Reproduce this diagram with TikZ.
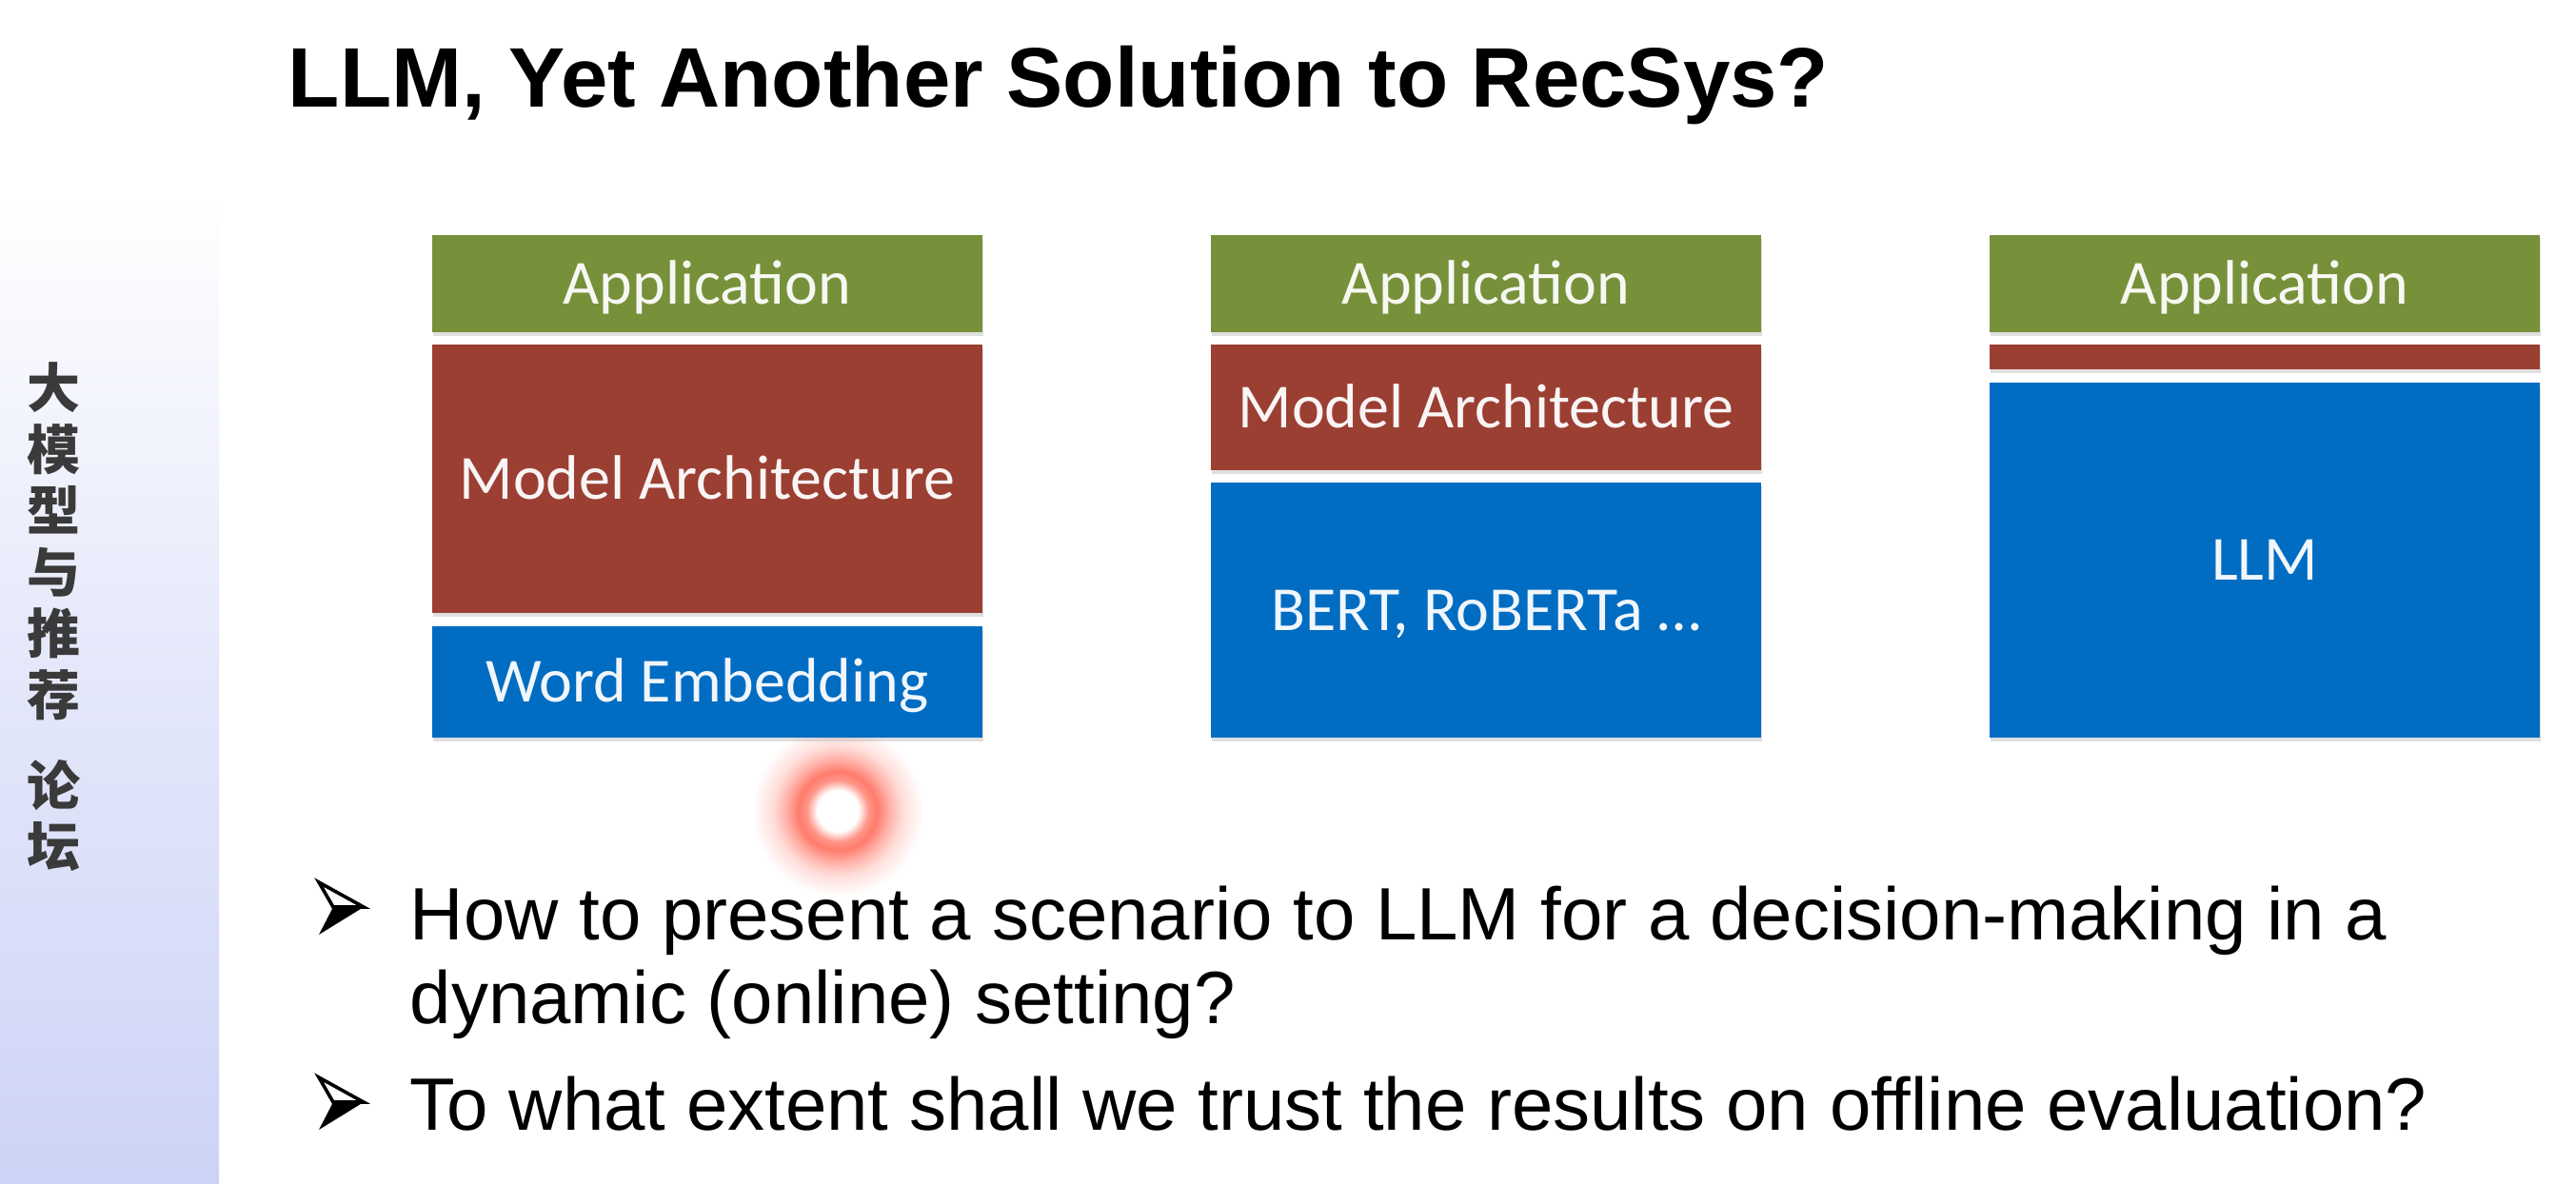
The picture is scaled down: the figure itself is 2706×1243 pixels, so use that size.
\documentclass[tikz,border=0pt]{standalone}
\usepackage{fontspec}
\setmainfont{Liberation Sans}
\newfontfamily\calfont{Carlito}
\newfontfamily\cjkfont{Noto Sans CJK SC}
\usetikzlibrary{shadows}
\definecolor{appgreen}{HTML}{77913A}
\definecolor{archred}{HTML}{9B3F33}
\definecolor{embblue}{HTML}{006CC2}
\definecolor{sidecol}{HTML}{CDD3F6}
\definecolor{laserred}{HTML}{FF7B6C}
\definecolor{sidetext}{HTML}{3A3A3A}
\pgfdeclareradialshading{laserglow}{\pgfpointorigin}{color(0bp)=(white); color(6bp)=(white); color(9bp)=(laserred!80!white); color(11.5bp)=(laserred); color(15bp)=(laserred!60!white); color(19bp)=(laserred!25!white); color(25bp)=(white); color(50bp)=(white)}
\pgfdeclareverticalshading{sidebarshade}{100bp}{color(0bp)=(sidecol); color(25bp)=(sidecol); color(50bp)=(sidecol!45!white); color(67bp)=(white); color(100bp)=(white)}
\begin{document}
\begin{tikzpicture}[x=0.25pt,y=-0.25pt,
  layer/.style={rectangle, inner sep=0pt, minimum width=144.5pt, draw=none,
    text height=10.6pt, text depth=0pt,
    drop shadow={shadow xshift=0.3pt, shadow yshift=-1.1pt, opacity=0.25},
    font=\calfont\fontsize{16.5pt}{18pt}\selectfont},
  applayer/.style={layer, fill=appgreen, text=appgreen!6!white, minimum height=25.5pt},
  archlayer/.style={layer, fill=archred, text=archred!5!white},
  emblayer/.style={layer, fill=embblue, text=embblue!6!white},
  bullettext/.style={anchor=base west, inner sep=0pt, font=\fontsize{19.5pt}{22pt}\selectfont},
  cjkchar/.style={inner sep=0pt, text=sidetext, font=\cjkfont\bfseries\fontsize{14pt}{14pt}\selectfont},
  pics/bulletarrow/.style={code={
    \fill[black] (-8,-1) -- (24,-1) -- (-23,28) -- cycle;
    \filldraw[fill=white, draw=black, line width=0.9pt, line join=miter] (-23,-27) -- (24,-1) -- (-8,-1) -- cycle;
  }}
]
\useasboundingbox (0,0) rectangle (2706,1243);
\fill[white] (0,0) rectangle (2706,1243);
\shade[shading=sidebarshade] (0,0) rectangle (230,1243);

% laser pointer glow (behind the stacks)
\shade[shading=laserglow] (880,852) circle[radius=90];

% sidebar text
\foreach \ch/\yy [count=\i] in {大/407, 模/472, 型/536, 与/601, 推/665, 荐/730, 论/825, 坛/889}
  \node[cjkchar] (side\i) at (56,\yy) {\ch};

% title
\node[anchor=base west, inner sep=0pt, font=\bfseries\fontsize{22.2pt}{24pt}\selectfont] (title) at (302,112) {LLM, Yet Another Solution to RecSys?};

% stack 1
\node[applayer] (app1) at (743,298) {Application};
\node[archlayer, minimum height=70.5pt] (arch1) at (743,503) {Model Architecture};
\node[emblayer, minimum height=29.25pt] (emb1) at (743,716.5) {Word Embedding};

% stack 2
\node[applayer] (app2) at (1561,298) {Application};
\node[archlayer, minimum height=33pt] (arch2) at (1561,428) {Model Architecture};
\node[emblayer, minimum height=67pt] (emb2) at (1561,641) {BERT, RoBERTa …};

% stack 3
\node[applayer] (app3) at (2379,298) {Application};
\node[archlayer, minimum height=6.5pt, text height=0pt] (arch3) at (2379,375) {};
\node[emblayer, minimum height=93.25pt] (emb3) at (2379,588.5) {LLM};

% bullets
\pic at (358,954) {bulletarrow};
\node[bullettext] (b1a) at (430,987) {How to present a scenario to LLM for a decision-making in a};
\node[bullettext] (b1b) at (430,1075) {dynamic (online) setting?};
\pic at (358,1159) {bulletarrow};
\node[bullettext] (b2) at (430,1187) {To what extent shall we trust the results on offline evaluation?};
\end{tikzpicture}
\end{document}
